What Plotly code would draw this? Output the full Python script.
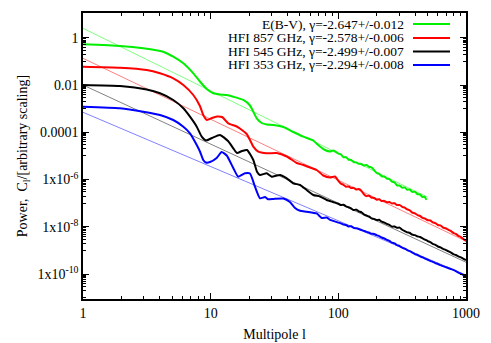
import numpy as np
import plotly.graph_objects as go

# ---- data (log10 of multipole l, log10 of power C_l) ----
green_logl = [0.0, 0.290, 0.472, 0.627, 0.707, 0.786, 0.864, 0.916, 0.969, 1.021, 1.073, 1.126, 1.177,
              1.256, 1.308, 1.361, 1.400, 1.441, 1.491, 1.569, 1.647, 1.726, 1.804, 1.825, 1.856, 1.895,
              1.935, 1.961,
              2.00, 2.02, 2.04, 2.06, 2.08, 2.10, 2.12, 2.14, 2.16, 2.18, 2.20, 2.22, 2.24, 2.26, 2.28, 2.30,
              2.32, 2.34, 2.36, 2.38, 2.40, 2.42, 2.44, 2.46, 2.48, 2.50, 2.52, 2.54, 2.56, 2.58, 2.60, 2.62,
              2.64, 2.66, 2.675, 2.69]
green_logC = [-0.279, -0.351, -0.448, -0.592, -0.803, -1.082, -1.505, -1.852, -2.169, -2.351, -2.402, -2.423,
              -2.495, -2.634, -2.867, -3.408, -3.607, -3.670, -3.691, -3.776, -3.987, -4.186, -4.347, -4.452,
              -4.600, -4.748, -4.812, -4.769,
              -4.90, -4.93, -5.06, -5.05, -5.16, -5.17, -5.26, -5.27, -5.33, -5.34, -5.40, -5.38, -5.46, -5.48,
              -5.60, -5.72, -5.76, -5.86, -5.87, -5.96, -5.98, -6.09, -6.12, -6.24, -6.25, -6.34, -6.33, -6.43,
              -6.42, -6.52, -6.51, -6.62, -6.63, -6.74, -6.72, -6.86]

red_logl = [0.0, 0.290, 0.499, 0.603, 0.707, 0.786, 0.864, 0.916, 0.942, 0.971, 1.010, 1.050, 1.089, 1.138,
            1.204, 1.245, 1.282, 1.308, 1.334, 1.373, 1.439, 1.517, 1.596, 1.674, 1.726, 1.778, 1.830, 1.882,
            1.935, 1.974,
            2.00, 2.02, 2.04, 2.06, 2.08, 2.10, 2.12, 2.14, 2.16, 2.18, 2.20, 2.22, 2.24, 2.26, 2.28, 2.30,
            2.32, 2.34, 2.36, 2.38, 2.40, 2.42, 2.44, 2.46, 2.48, 2.50, 2.52, 2.54, 2.56, 2.58, 2.60, 2.62,
            2.64, 2.66, 2.68, 2.70, 2.72, 2.74, 2.76, 2.78, 2.80, 2.82, 2.84, 2.86, 2.88, 2.90, 2.92, 2.94,
            2.96, 2.98, 3.00]
red_logC = [-1.226, -1.268, -1.366, -1.505, -1.717, -2.000, -2.423, -2.888, -3.268, -3.480, -3.395, -3.332,
            -3.353, -3.619, -3.755, -3.903, -4.072, -4.325, -4.609, -4.820, -4.888, -4.875, -5.023, -5.298,
            -5.383, -5.488, -5.594, -5.827, -5.911, -5.869,
            -6.05, -6.17, -6.22, -6.30, -6.29, -6.36, -6.35, -6.42, -6.40, -6.47, -6.62, -6.70, -6.68, -6.76,
            -6.78, -6.85, -6.83, -6.91, -6.90, -6.96, -6.95, -7.01, -7.00, -7.08, -7.07, -7.15, -7.19, -7.26,
            -7.30, -7.40, -7.43, -7.50, -7.54, -7.62, -7.65, -7.72, -7.73, -7.81, -7.84, -7.92, -7.94, -8.03,
            -8.06, -8.12, -8.17, -8.25, -8.30, -8.38, -8.43, -8.51, -8.60]

black_logl = [0.0, 0.290, 0.499, 0.603, 0.707, 0.786, 0.838, 0.891, 0.930, 0.963, 1.010, 1.073, 1.136, 1.177,
              1.206, 1.245, 1.285, 1.334, 1.363, 1.386, 1.439, 1.478, 1.543, 1.596, 1.647, 1.700, 1.752, 1.804,
              1.856, 1.909, 1.958,
              2.00, 2.02, 2.04, 2.06, 2.08, 2.10, 2.12, 2.14, 2.16, 2.18, 2.20, 2.22, 2.24, 2.26, 2.28, 2.30,
              2.32, 2.34, 2.36, 2.38, 2.40, 2.42, 2.44, 2.46, 2.48, 2.50, 2.52, 2.54, 2.56, 2.58, 2.60, 2.62,
              2.64, 2.66, 2.68, 2.70, 2.72, 2.74, 2.76, 2.78, 2.80, 2.82, 2.84, 2.86, 2.88, 2.90, 2.92, 2.94,
              2.96, 2.98, 3.00]
black_logC = [-2.000, -2.042, -2.190, -2.351, -2.634, -2.985, -3.340, -3.763, -4.186, -4.347, -4.241, -4.114,
              -4.368, -4.677, -4.875, -4.791, -4.748, -5.171, -5.666, -5.805, -5.734, -5.877, -5.805, -5.945,
              -6.156, -6.228, -6.440, -6.651, -6.715, -6.862, -6.947,
              -7.02, -7.08, -7.06, -7.13, -7.17, -7.22, -7.29, -7.27, -7.34, -7.38, -7.47, -7.52, -7.56, -7.64,
              -7.66, -7.71, -7.70, -7.78, -7.82, -7.87, -7.92, -7.99, -7.98, -8.04, -8.03, -8.12, -8.18, -8.23,
              -8.26, -8.33, -8.35, -8.40, -8.43, -8.49, -8.54, -8.60, -8.64, -8.72, -8.76, -8.83, -8.87, -8.93,
              -8.97, -9.03, -9.08, -9.15, -9.19, -9.25, -9.29, -9.35, -9.40]

blue_logl = [0.0, 0.290, 0.472, 0.603, 0.707, 0.786, 0.838, 0.891, 0.916, 0.942, 0.963, 0.995, 1.047, 1.086,
             1.126, 1.177, 1.216, 1.269, 1.308, 1.347, 1.386, 1.426, 1.451, 1.491, 1.569, 1.621, 1.661, 1.700,
             1.752, 1.830, 1.870, 1.909, 1.935,
             2.00, 2.02, 2.04, 2.06, 2.08, 2.10, 2.12, 2.14, 2.16, 2.18, 2.20, 2.22, 2.24, 2.26, 2.28, 2.30,
             2.32, 2.34, 2.36, 2.38, 2.40, 2.42, 2.44, 2.46, 2.48, 2.50, 2.52, 2.54, 2.56, 2.58, 2.60, 2.62,
             2.64, 2.66, 2.68, 2.70, 2.72, 2.74, 2.76, 2.78, 2.80, 2.82, 2.84, 2.86, 2.88, 2.90, 2.92, 2.94,
             2.96, 2.98, 3.00]
blue_logC = [-2.918, -2.985, -3.129, -3.268, -3.480, -3.763, -4.042, -4.537, -4.812, -5.171, -5.277, -5.256,
             -5.087, -4.833, -4.981, -5.510, -5.877, -5.734, -5.742, -6.300, -6.791, -6.736, -6.833, -6.820,
             -6.799, -6.947, -7.201, -7.315, -7.357, -7.433, -7.624, -7.603, -7.708,
             -7.82, -7.85, -7.90, -7.92, -7.98, -7.97, -8.04, -8.06, -8.09, -8.13, -8.17, -8.21, -8.24, -8.29,
             -8.30, -8.35, -8.39, -8.45, -8.49, -8.55, -8.59, -8.67, -8.70, -8.77, -8.81, -8.88, -8.92, -8.98,
             -9.03, -9.09, -9.15, -9.19, -9.25, -9.29, -9.34, -9.39, -9.44, -9.48, -9.53, -9.57, -9.62, -9.66,
             -9.70, -9.74, -9.78, -9.82, -9.87, -9.93, -9.98, -10.04, -10.10]

# power-law fits: log10 amplitude at l=1, slope gamma, l range
fit_names = ["E(B-V)", "HFI 857 GHz", "HFI 545 GHz", "HFI 353 GHz"]
fit_gamma = [-2.647, -2.578, -2.499, -2.294]
fit_gamma_err = [0.012, 0.006, 0.007, 0.008]
fit_logA = [0.397, -0.871, -2.000, -3.154]
fit_lmax = [500, 1000, 1000, 1000]

curve_colors = ["#00ee00", "#ff0000", "#000000", "#0000ff"]
fit_colors = ["#80ff80", "#ff8080", "#808080", "#8080ff"]

ytick_vals = [1e-10, 1e-8, 1e-6, 1e-4, 1e-2, 1]
ytick_text = ["1x10<sup>-10</sup>", "1x10<sup>-8</sup>", "1x10<sup>-6</sup>", "0.0001", "0.01", "1"]
xtick_vals = [1, 10, 100, 1000]
xtick_text = ["1", "10", "100", "1000"]

FONT = "Liberation Serif"

fig = go.Figure()
curves = [(green_logl, green_logC), (red_logl, red_logC), (black_logl, black_logC), (blue_logl, blue_logC)]

for i in range(4):
    lf = np.array([1.0, fit_lmax[i]])
    cf = 10 ** fit_logA[i] * lf ** fit_gamma[i]
    fig.add_trace(go.Scatter(x=lf, y=cf, mode="lines", line=dict(color=fit_colors[i], width=1),
                             showlegend=False, hoverinfo="skip"))

for i, (ll, lc) in enumerate(curves):
    fig.add_trace(go.Scatter(x=10 ** np.array(ll), y=10 ** np.array(lc), mode="lines",
                             line=dict(color=curve_colors[i], width=2, shape="spline", smoothing=0.5),
                             name=fit_names[i], showlegend=False))

# minor ticks (gnuplot style)
y_minor = []
for e in range(-11, 1, 2):
    for k in range(1, 10):
        y_minor.append(k * 10.0 ** e)
x_minor = []
for e in range(0, 3):
    for k in range(2, 10):
        x_minor.append(k * 10.0 ** e)

axis_common = dict(type="log", showgrid=False, zeroline=False, showline=True, linecolor="black",
                   linewidth=1.5, mirror="ticks", ticks="inside", ticklen=6, tickcolor="black",
                   tickwidth=1, automargin=False, tickfont=dict(family=FONT, size=14, color="black"))

fig.update_xaxes(**axis_common, range=[0, 3], tickmode="array", tickvals=xtick_vals, ticktext=xtick_text,
                 minor=dict(tickmode="array", tickvals=x_minor, ticks="inside", ticklen=3,
                            tickcolor="black", tickwidth=1, showgrid=False),
                 title=dict(text="Multipole l", font=dict(family=FONT, size=14, color="black"), standoff=10))
fig.update_yaxes(**axis_common, range=[-11.05, 1.045], tickmode="array", tickvals=ytick_vals,
                 ticktext=ytick_text,
                 minor=dict(tickmode="array", tickvals=y_minor, ticks="inside", ticklen=3,
                            tickcolor="black", tickwidth=1, showgrid=False),
                 title=dict(text="Power,  C<sub>l</sub>/[arbitrary scaling]",
                            font=dict(family=FONT, size=14, color="black"), standoff=6))

# legend keys: text right-aligned with the sample line to its right, as in the original
row_y = [0.9615, 0.9126, 0.8654, 0.8182]
for i in range(4):
    txt = f"{fit_names[i]}, γ={fit_gamma[i]:.3f}+/-{fit_gamma_err[i]:.3f}"
    fig.add_annotation(x=0.8407, y=row_y[i], xref="paper", yref="paper", text=txt, showarrow=False,
                       xanchor="right", yanchor="middle", borderpad=0,
                       font=dict(family=FONT, size=13.5, color="black"))
    fig.add_shape(type="line", xref="paper", yref="paper", x0=0.8616, x1=0.9582, y0=row_y[i], y1=row_y[i],
                  line=dict(color=curve_colors[i], width=2))

fig.update_layout(width=491, height=343, margin=dict(l=83, r=25, t=13, b=44),
                  paper_bgcolor="white", plot_bgcolor="white", showlegend=False,
                  font=dict(family=FONT, size=14, color="black"))

fig.write_html("out.html", config={"displayModeBar": False},
               post_script="document.body.style.margin='0';document.body.style.overflow='hidden';")
